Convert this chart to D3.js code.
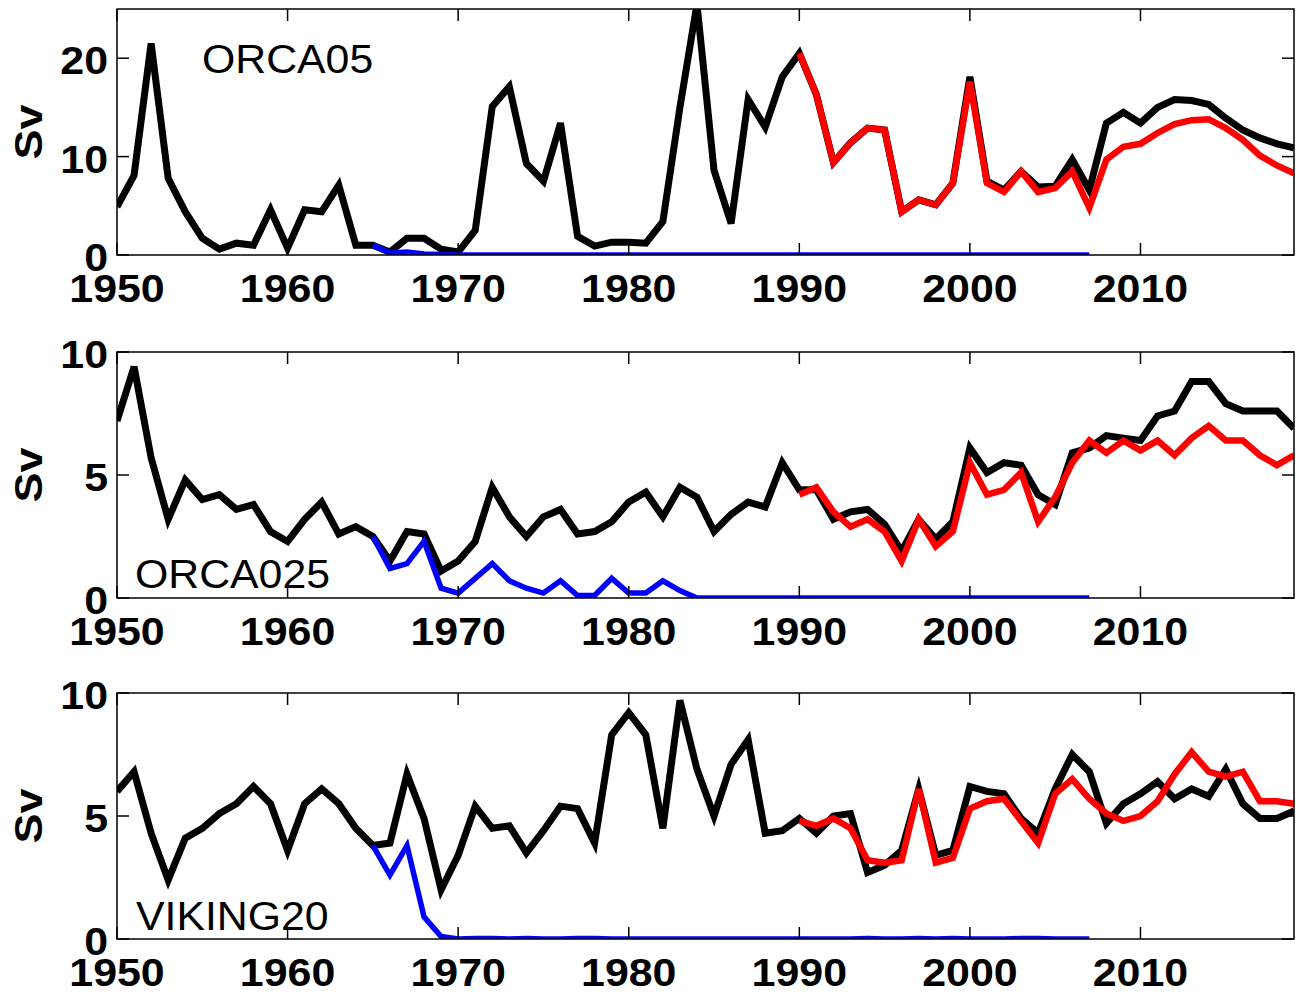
<!DOCTYPE html>
<html>
<head>
<meta charset="UTF-8" />
<title>Sv time series</title>
<script src="https://d3js.org/d3.v7.min.js"></script>
<style>
  body { margin: 0; background: #fff; }
  svg text { font-family: "Liberation Sans", Arial, sans-serif; }
</style>
</head>
<body>
<div id="chart"></div>
<script>
// years
const yearStart = 1950, yearEnd = 2019;
const xTicks = [1950, 1960, 1970, 1980, 1990, 2000, 2010];

// ORCA05
const orca05Black = [4.9, 8.1, 21.5, 7.8, 4.4, 1.7, 0.6, 1.2, 1.0, 4.6,
  0.7, 4.6, 4.4, 7.1, 1.0, 1.0, 0.3, 1.7, 1.7, 0.6,
  0.3, 2.5, 15.1, 17.1, 9.3, 7.5, 13.4, 1.9, 0.9, 1.3,
  1.3, 1.2, 3.4, 15.0, 25.5, 8.6, 3.2, 15.8, 13.0, 18.1,
  20.5, 16.3, 9.4, 11.4, 12.9, 12.7, 4.4, 5.6, 5.1, 7.3,
  18.1, 7.5, 6.6, 8.5, 6.9, 7.0, 9.7, 6.6, 13.4, 14.5,
  13.4, 15.0, 15.8, 15.7, 15.3, 13.9, 12.7, 11.9, 11.3, 10.9];
const orca05Red = [20.5, 16.3, 9.4, 11.4, 12.9, 12.7, 4.4, 5.6, 5.1, 7.3,
  17.6, 7.3, 6.4, 8.5, 6.4, 6.8, 8.5, 4.8, 9.7, 11.0,
  11.3, 12.4, 13.3, 13.7, 13.8, 12.9, 11.7, 10.1, 9.1, 8.3];
const orca05Blue = [1.0, 0.2, 0.3, 0.1, 0.05, 0, 0, 0, 0, 0,
  0, 0, 0, 0, 0, 0, 0, 0, 0, 0,
  0, 0, 0, 0, 0, 0, 0, 0, 0, 0,
  0, 0, 0, 0, 0, 0, 0, 0, 0, 0,
  0, 0, 0];

// ORCA025
const orca025Black = [7.2, 9.4, 5.7, 3.2, 4.8, 4.0, 4.2, 3.6, 3.8, 2.7,
  2.3, 3.2, 3.9, 2.6, 2.9, 2.5, 1.5, 2.7, 2.6, 1.1,
  1.5, 2.3, 4.5, 3.3, 2.5, 3.3, 3.6, 2.6, 2.7, 3.1,
  3.9, 4.3, 3.3, 4.5, 4.1, 2.7, 3.4, 3.9, 3.7, 5.5,
  4.4, 4.4, 3.2, 3.5, 3.6, 3.0, 1.9, 3.2, 2.4, 3.1,
  6.1, 5.1, 5.5, 5.4, 4.2, 3.8, 5.9, 6.1, 6.6, 6.5,
  6.4, 7.4, 7.6, 8.8, 8.8, 7.9, 7.6, 7.6, 7.6, 6.9];
const orca025Red = [4.2, 4.5, 3.5, 2.9, 3.2, 2.7, 1.5, 3.2, 2.1, 2.7,
  5.5, 4.2, 4.4, 5.1, 3.1, 4.1, 5.5, 6.4, 5.9, 6.4,
  6.0, 6.4, 5.8, 6.5, 7.0, 6.4, 6.4, 5.8, 5.4, 5.8];
const orca025Blue = [2.5, 1.2, 1.4, 2.3, 0.4, 0.2, 0.8, 1.4, 0.7, 0.4,
  0.2, 0.7, 0.1, 0.1, 0.8, 0.2, 0.2, 0.7, 0.3, 0,
  0, 0, 0, 0, 0, 0, 0, 0, 0, 0,
  0, 0, 0, 0, 0, 0, 0, 0, 0, 0,
  0, 0, 0];

// VIKING20
const vikingBlack = [6.0, 6.8, 4.3, 2.4, 4.1, 4.5, 5.1, 5.5, 6.2, 5.5,
  3.6, 5.5, 6.1, 5.5, 4.5, 3.8, 3.9, 6.7, 4.9, 2.0,
  3.4, 5.4, 4.5, 4.6, 3.5, 4.4, 5.4, 5.3, 3.9, 8.3,
  9.2, 8.3, 4.5, 9.7, 6.9, 5.0, 7.1, 8.1, 4.3, 4.4,
  4.9, 4.3, 5.0, 5.1, 2.7, 3.0, 3.6, 6.1, 3.4, 3.6,
  6.2, 6.0, 5.9, 4.9, 4.3, 6.1, 7.5, 6.8, 4.7, 5.5,
  5.9, 6.4, 5.7, 6.1, 5.8, 6.9, 5.5, 4.9, 4.9, 5.2];
const vikingRed = [4.8, 4.6, 4.9, 4.5, 3.2, 3.1, 3.2, 6.1, 3.1, 3.3,
  5.3, 5.6, 5.7, 4.8, 3.9, 5.9, 6.5, 5.7, 5.1, 4.8,
  5.0, 5.6, 6.7, 7.6, 6.8, 6.6, 6.8, 5.6, 5.6, 5.5];
const vikingBlue = [3.8, 2.6, 3.8, 0.9, 0.1, 0, 0.02, 0.02, 0, 0.02,
  0, 0, 0.02, 0.02, 0, 0, 0, 0, 0, 0,
  0, 0, 0, 0, 0, 0, 0, 0, 0, 0.02,
  0, 0, 0.02, 0, 0.02, 0, 0, 0, 0.02, 0.02,
  0, 0, 0];

const panelNames = ["ORCA05", "ORCA025", "VIKING20"];
const yMax = [25, 10, 10];
const yTickSets = [[0, 10, 20], [0, 5, 10], [0, 5, 10]];
const blackSets = [orca05Black, orca025Black, vikingBlack];
const redSets = [orca05Red, orca025Red, vikingRed];
const blueSets = [orca05Blue, orca025Blue, vikingBlue];

const W = 1299, H = 994;
const left = 117, right = 1294;
const tops = [9, 352, 693];
const ph = 246;
const fs = 39;
const tickLen = 12;
const stretch = 1.1; // labels in the reference are a bit wider than Liberation

const svg = d3.select("#chart").append("svg")
  .attr("width", W).attr("height", H);

const x = d3.scaleLinear().domain([yearStart, yearEnd]).range([left, right]);

const toPts = (vals, start) => vals.map((v, i) => ({ year: start + i, v: v }));

// text placed with a horizontal stretch
function label(g, tx, ty, str, anchor, weight, size, sx) {
  return g.append("text")
    .attr("transform", `translate(${tx},${ty}) scale(${sx},1)`)
    .attr("text-anchor", anchor).attr("font-size", size)
    .attr("font-weight", weight).text(str);
}

panelNames.forEach((name, p) => {
  const top = tops[p], bottom = top + ph;
  const y = d3.scaleLinear().domain([0, yMax[p]]).range([bottom, top]);
  const g = svg.append("g");

  const clipId = "clip" + p;
  svg.append("clipPath").attr("id", clipId)
    .append("rect").attr("x", left).attr("y", top)
    .attr("width", right - left).attr("height", ph);

  const line = d3.line().x(d => x(d.year)).y(d => y(d.v));
  const lines = g.append("g").attr("clip-path", `url(#${clipId})`);

  lines.append("path").datum(toPts(blackSets[p], yearStart))
    .attr("d", line).attr("fill", "none")
    .attr("stroke", "#000").attr("stroke-width", 7);
  lines.append("path").datum(toPts(blueSets[p], 1965))
    .attr("d", line).attr("fill", "none")
    .attr("stroke", "#0000ff").attr("stroke-width", 5.5);
  lines.append("path").datum(toPts(redSets[p], 1990))
    .attr("d", line).attr("fill", "none")
    .attr("stroke", "#ff0000").attr("stroke-width", 6.5);

  // frame
  g.append("rect").attr("x", left).attr("y", top)
    .attr("width", right - left).attr("height", ph)
    .attr("fill", "none").attr("stroke", "#000").attr("stroke-width", 1.5);

  // x ticks, inner on both edges
  xTicks.forEach(t => {
    g.append("line").attr("x1", x(t)).attr("x2", x(t))
      .attr("y1", bottom).attr("y2", bottom - tickLen)
      .attr("stroke", "#000").attr("stroke-width", 1.5);
    g.append("line").attr("x1", x(t)).attr("x2", x(t))
      .attr("y1", top).attr("y2", top + tickLen)
      .attr("stroke", "#000").attr("stroke-width", 1.5);
    label(g, x(t), bottom + 47, t, "middle", "bold", fs, stretch);
  });

  // y ticks
  yTickSets[p].forEach(t => {
    g.append("line").attr("x1", left).attr("x2", left + tickLen)
      .attr("y1", y(t)).attr("y2", y(t))
      .attr("stroke", "#000").attr("stroke-width", 1.5);
    g.append("line").attr("x1", right).attr("x2", right - tickLen)
      .attr("y1", y(t)).attr("y2", y(t))
      .attr("stroke", "#000").attr("stroke-width", 1.5);
    label(g, left - 9, y(t) + 16, t, "end", "bold", fs, stretch);
  });

  g.append("text")
    .attr("transform", `translate(42,${top + ph / 2}) rotate(-90) scale(1.15,1)`)
    .attr("text-anchor", "middle").attr("font-size", fs)
    .attr("font-weight", "bold").text("Sv");
});

// model names
const nameX = [202, 135, 136];
const nameY = [73, 588, 930];
panelNames.forEach((name, p) => {
  label(svg, nameX[p], nameY[p], name, "start", "normal", 40, 1.07);
});
</script>
</body>
</html>
